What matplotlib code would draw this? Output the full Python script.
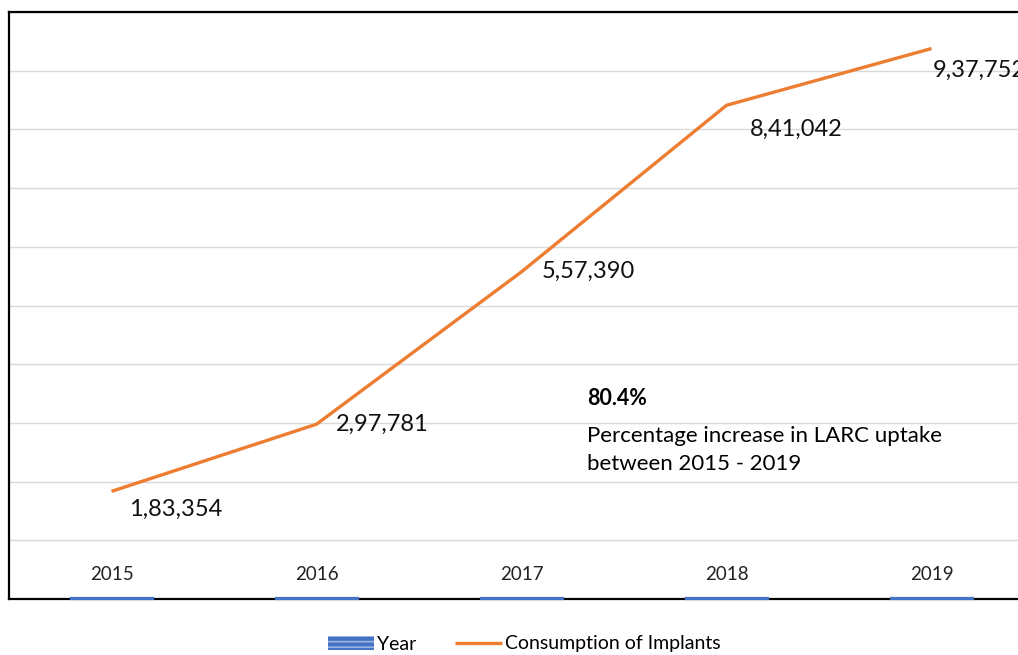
import matplotlib.pyplot as plt
import matplotlib.ticker as mticker
from matplotlib.patches import Patch

plt.rcParams["font.family"] = ["Lato", "DejaVu Sans"]
plt.rcParams["hatch.linewidth"] = 1.2

years = ["2015", "2016", "2017", "2018", "2019"]
year_values = [2015, 2016, 2017, 2018, 2019]
implants = [183354, 297781, 557390, 841042, 937752]
implant_labels = ["1,83,354", "2,97,781", "5,57,390", "8,41,042", "9,37,752"]
label_offsets = [(64, -18), (66, 0), (67, 0), (70, -24), (48, -22)]  # pixels

BLUE = "#4472C4"
ORANGE = "#ED7D31"

fig = plt.figure(figsize=(10.18, 6.55), dpi=100)
W, H = 1018, 655
ax = fig.add_axes([9 / W, 1 - 599 / H, 1025 / W, 587 / H])

x = list(range(len(years)))
# bars are tiny on this scale, the edge keeps them visible
ax.bar(x, year_values, width=0.4, color=BLUE, edgecolor=BLUE, linewidth=1.6,
       zorder=3, clip_on=False)
line, = ax.plot(x, implants, color=ORANGE, lw=2.4, label="Consumption of Implants",
                solid_capstyle="butt")

for xi, yr in zip(x, years):
    ax.annotate(yr, (xi, 0), xytext=(0, 17.5), textcoords="offset points",
                ha="center", va="center", fontsize=13.5, color="#222222")

for xi, v, lab, (dx, dy) in zip(x, implants, implant_labels, label_offsets):
    ax.annotate(lab, (xi, v), xytext=(dx * 0.72, dy * 0.72), textcoords="offset points",
                ha="center", va="center", fontsize=17, color="#111111",
                annotation_clip=False)

ax.set_xlim(-0.5, 4.5)
ax.set_ylim(0, 1000000)
ax.yaxis.set_major_locator(mticker.MultipleLocator(100000))
ax.grid(axis="y", color="#D9D9D9", lw=1.0)
ax.set_axisbelow(True)
ax.tick_params(left=False, bottom=False, labelleft=False, labelbottom=False)
for s in ["left", "top", "bottom", "right"]:
    ax.spines[s].set_linewidth(1.6)
    ax.spines[s].set_color("black")

fig.text(587 / W, 1 - 399 / H, "80.4%", fontsize=15.5, fontweight="bold",
         ha="left", va="center")
fig.text(587 / W, 1 - 436 / H, "Percentage increase in LARC uptake", fontsize=16,
         ha="left", va="center")
fig.text(587 / W, 1 - 464 / H, "between 2015 - 2019", fontsize=16,
         ha="left", va="center")

year_handle = Patch(facecolor=BLUE, hatch="---", edgecolor="#9DB5E3", linewidth=0,
                    label="Year")
fig.legend(handles=[year_handle, line], loc="center", bbox_to_anchor=(524 / W, 1 - 644 / H),
           ncol=2, frameon=False, fontsize=14, handlelength=2.4, columnspacing=2.0,
           handletextpad=0.15)

fig.savefig("out.png", dpi=100)
